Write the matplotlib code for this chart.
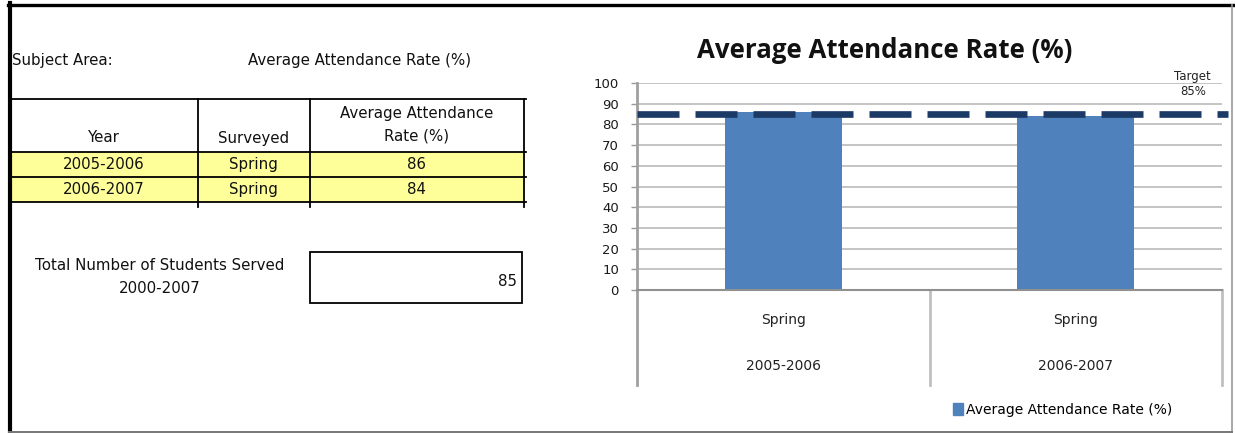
import matplotlib
matplotlib.use("Agg")
import matplotlib.pyplot as plt
import matplotlib.transforms as mtransforms
from matplotlib.patches import Rectangle

# data
years = ["2005-2006", "2006-2007"]
surveyed = ["Spring", "Spring"]
attendance = [86, 84]
target = 85
total_served = 85
y_ticks = [0, 10, 20, 30, 40, 50, 60, 70, 80, 90, 100]

W, H = 1235, 433
fig = plt.figure(figsize=(W / 100, H / 100), dpi=100)

# background panel in pixel units (table on the left + frame)
bg = fig.add_axes([0, 0, 1, 1])
bg.set_xlim(0, W)
bg.set_ylim(H, 0)
bg.axis("off")

tfont = dict(family="DejaVu Sans", fontsize=10.8, color="#111111")

# frame
bg.plot([9.5, 9.5], [3, H], color="black", lw=3)
bg.plot([8, W], [4.5, 4.5], color="black", lw=2.4)
bg.plot([1232, 1232], [5, H], color="#999999", lw=1.2)
bg.plot([9, 1232], [431.5, 431.5], color="#777777", lw=1.4)

bg.text(12, 60, "Subject Area:", ha="left", va="center", **tfont)
bg.text(360, 60, "Average Attendance Rate (%)", ha="center", va="center", **tfont)

# table
col_x = [10, 197.5, 309.5, 523.5]
row_y = [99, 152, 177, 202]
for i in range(len(years)):
    bg.add_patch(Rectangle((col_x[0], row_y[i + 1]), col_x[-1] - col_x[0],
                           row_y[i + 2] - row_y[i + 1], facecolor="#ffff99",
                           edgecolor="none", zorder=0))
for y in row_y:
    bg.plot([col_x[0], col_x[-1] + 2], [y, y], color="black", lw=1.3)
for x in col_x[1:]:
    bg.plot([x, x], [row_y[0], row_y[-1] + 5], color="black", lw=1.3)

centers = [(col_x[j] + col_x[j + 1]) / 2 for j in range(3)]
bg.text(centers[0], 138, "Year", ha="center", va="center", **tfont)
bg.text(centers[1], 138, "Surveyed", ha="center", va="center", **tfont)
bg.text(centers[2], 125, "Average Attendance\nRate (%)", ha="center", va="center",
        linespacing=1.65, **tfont)
for i, (yr, sv, rate) in enumerate(zip(years, surveyed, attendance)):
    yc = (row_y[i + 1] + row_y[i + 2]) / 2
    bg.text(centers[0], yc, yr, ha="center", va="center", **tfont)
    bg.text(centers[1], yc, sv, ha="center", va="center", **tfont)
    bg.text(centers[2], yc, str(rate), ha="center", va="center", **tfont)

bg.text(160, 277, "Total Number of Students Served\n2000-2007", ha="center",
        va="center", linespacing=1.65, **tfont)
bg.add_patch(Rectangle((310, 252), 212, 51, facecolor="none", edgecolor="black", lw=1.3))
bg.text(517, 282, str(total_served), ha="right", va="center", **tfont)

# chart
cfont = "DejaVu Sans"
ax = fig.add_axes([637 / W, (H - 290) / H, 585 / W, 207 / H])
x = list(range(len(years)))
ax.bar(x, attendance, width=0.4, color="#4f81bd", zorder=2)
ax.set_xlim(-0.5, len(years) - 0.5)
ax.set_ylim(0, 100)
ax.set_yticks(y_ticks)
ax.set_yticklabels([str(v) for v in y_ticks], fontfamily=cfont, fontsize=9.5, color="#1a1a1a")
ax.tick_params(axis="y", length=4, width=1, color="#999999", pad=9)
ax.set_xticks([])
ax.grid(axis="y", color="#c4c4c4", lw=1.4, zorder=0)
for s in ["top", "right"]:
    ax.spines[s].set_visible(False)
ax.spines["left"].set_color("#a0a0a0")
ax.spines["left"].set_linewidth(2)
ax.spines["bottom"].set_color("#909090")
ax.spines["bottom"].set_linewidth(1.5)

ax.plot([-0.5, len(years) - 0.48], [target, target], color="#1c3a66", lw=4.8,
        dashes=(6.3, 2.4), clip_on=False, zorder=3)
ax.text(1.40, 99.5, "Target\n%d%%" % target, ha="center", va="center",
        fontfamily=cfont, fontsize=8.5, linespacing=1.25, color="#222222")

trans = mtransforms.blended_transform_factory(ax.transData, ax.transAxes)
for b in [i - 0.5 for i in range(len(years) + 1)]:
    ax.plot([b, b], [0, -0.46], transform=trans, color="#c0c0c0" if b > -0.5 else "#a0a0a0",
            lw=2, clip_on=False)
for i, (yr, sv) in enumerate(zip(years, surveyed)):
    ax.text(i, -0.145, sv, transform=trans, ha="center", va="center",
            fontfamily=cfont, fontsize=10, color="#222222")
    ax.text(i, -0.367, yr, transform=trans, ha="center", va="center",
            fontfamily=cfont, fontsize=10, color="#222222")

fig.text(885 / W, 1 - 51 / H, "Average Attendance Rate (%)", ha="center", va="center",
         fontfamily="Open Sans", fontweight="bold", fontsize=18.6, color="#111111")

ax.legend([Rectangle((0, 0), 1, 1, color="#4f81bd")], ["Average Attendance Rate (%)"],
          loc="center left", bbox_to_anchor=(953 / W, 1 - 410 / H),
          bbox_transform=fig.transFigure, frameon=False, handlelength=0.7,
          handleheight=0.9, handletextpad=0.2, borderpad=0, borderaxespad=0,
          prop={"family": cfont, "size": 10})

fig.savefig("out.png", dpi=100)
